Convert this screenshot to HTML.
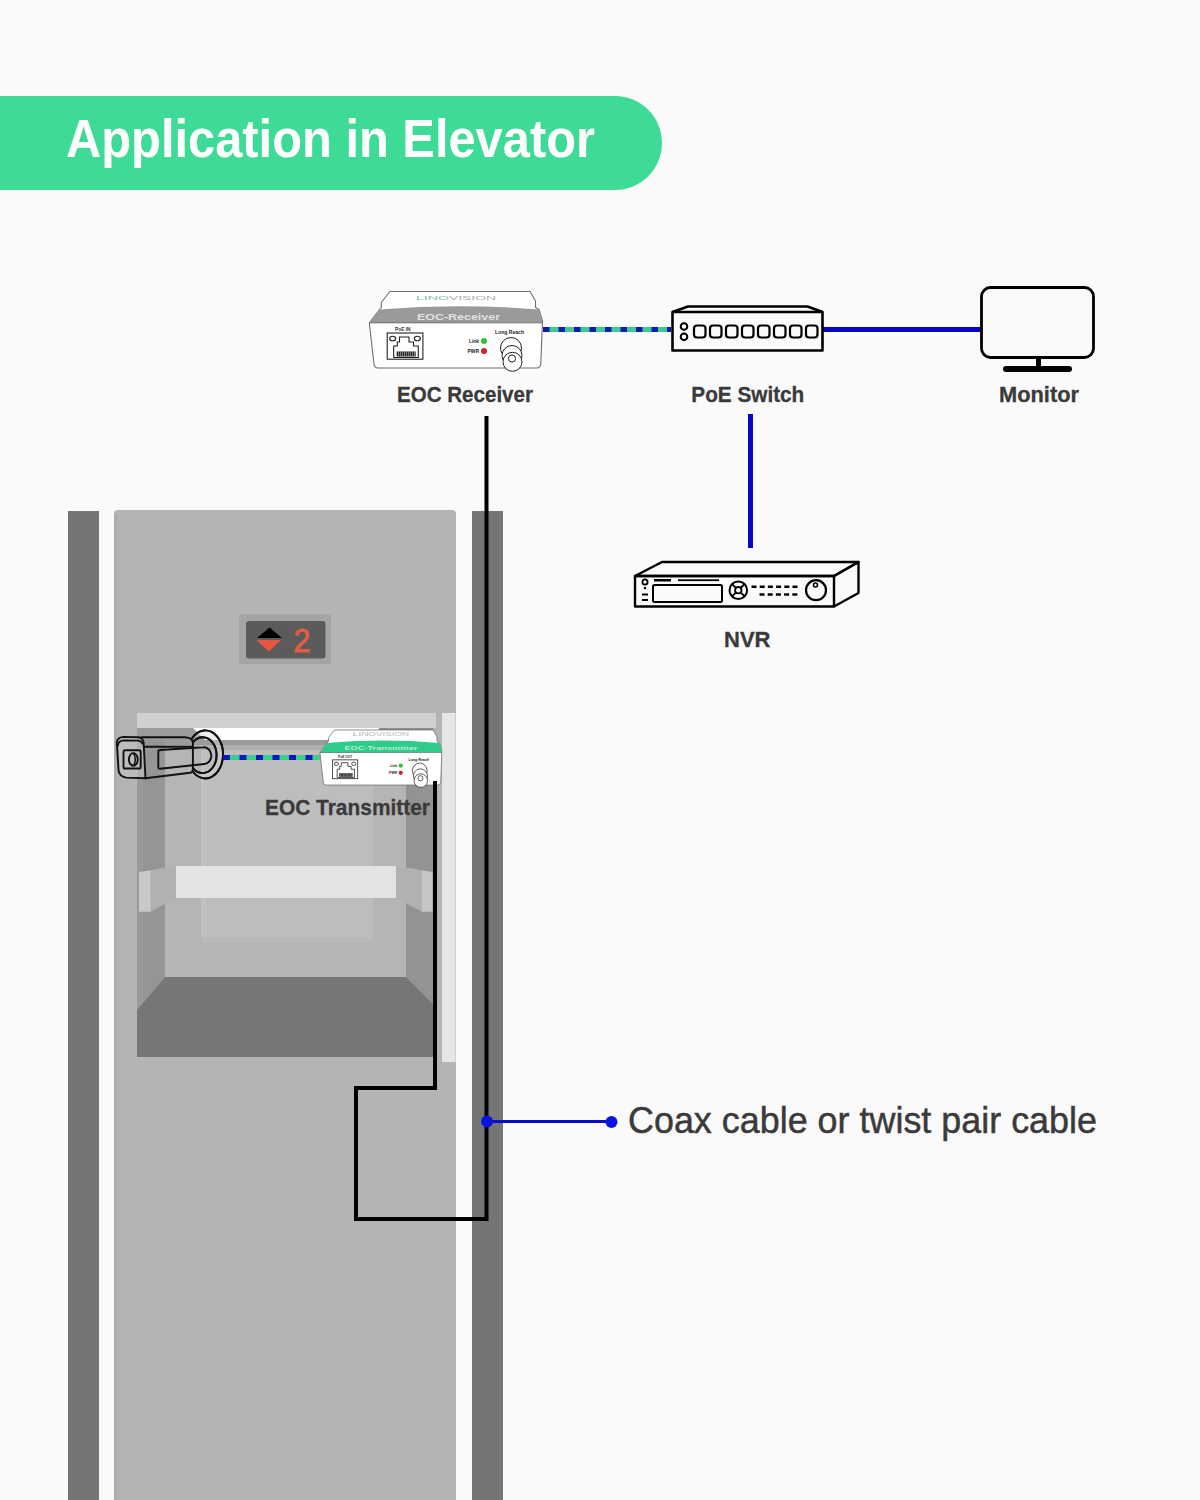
<!DOCTYPE html>
<html><head><meta charset="utf-8">
<style>
html,body{margin:0;padding:0;background:#FAFAFA;}
svg{display:block;}
text{font-family:"Liberation Sans",sans-serif;}
</style></head>
<body>
<svg width="1200" height="1500" viewBox="0 0 1200 1500">
<rect x="0" y="0" width="1200" height="1500" fill="#FAFAFA"/>
<!-- title bar -->
<path d="M0 96 H615 A47 47 0 0 1 615 190 H0 Z" fill="#3DDB95"/>
<text x="66" y="157" font-size="53.5" font-weight="bold" fill="#FFFFFF" textLength="529" lengthAdjust="spacingAndGlyphs">Application in Elevator</text>

<!-- pillars -->
<rect x="68" y="511" width="31" height="989" fill="#757575"/>
<rect x="472" y="511" width="31" height="989" fill="#757575"/>
<!-- door panel -->
<path d="M114 1500 V514 Q114 510 118 510 H452 Q456 510 456 514 V1500 Z" fill="#B3B4B3"/>
<rect x="114" y="514" width="2" height="986" fill="#A9AAA9"/>
<rect x="116" y="514" width="3" height="986" fill="#B0B1B0"/>

<!-- floor indicator -->
<rect x="239" y="614.5" width="92" height="49.5" rx="2" fill="#A4A4A4"/>
<rect x="246" y="621" width="79.5" height="37.5" rx="3" fill="#5B5B5B"/>
<path d="M257 638 L269.5 627.5 L282 638 Z" fill="#000"/>
<path d="M256.5 640 L281 640 L269 651.5 Z" fill="#E8553F"/>
<text x="293.5" y="651.5" font-size="33" fill="#E35C45" stroke="#E35C45" stroke-width="0.9" textLength="17" lengthAdjust="spacingAndGlyphs">2</text>

<!-- interior -->
<rect x="137" y="713" width="299" height="15" fill="#CFD0CF"/>
<rect x="137" y="728" width="296" height="329" fill="#B5B5B5"/>
<!-- ceiling -->
<rect x="137" y="728" width="296" height="17.5" fill="#9B9B9B"/>
<path d="M193 728 H379 V740 H205 Z" fill="#FDFDFD"/>
<rect x="379" y="728" width="54" height="12" fill="#8E8E8E"/>
<rect x="165" y="745.5" width="241" height="4.5" fill="#B0B0B0"/>
<!-- back wall -->
<rect x="165" y="750" width="241" height="227" fill="#B5B5B5"/>
<rect x="202" y="750" width="171" height="192" fill="#B9B9B9"/>
<rect x="202" y="750" width="171" height="187" fill="#BDBDBD"/>
<rect x="201" y="750" width="5" height="187" fill="#C1C1C1"/>
<!-- left wall -->
<path d="M137 740 H165 V977 L137 1010 Z" fill="#959595"/>
<path d="M137 740 H143 V1003 L137 1010 Z" fill="#9A9A9A"/>
<!-- right wall -->
<path d="M406 740 H433 V1004 L406 977 Z" fill="#939393"/>
<!-- floor -->
<path d="M165 977 H406 L433 1004 V1057 H137 V1010 Z" fill="#767676"/>
<!-- handrail -->
<rect x="176" y="866" width="220" height="32" fill="#E3E3E3"/>
<path d="M150.7 870.3 L176 865.7 V898 L150.7 911.7 Z" fill="#B1B1B1"/>
<path d="M139 872 L150.7 870.3 V911.7 H139 Z" fill="#C9C9C9"/>
<path d="M396 865.7 L422 870.3 V911.7 L396 898 Z" fill="#B1B1B1"/>
<path d="M422 870.3 L432.5 872 V911.7 H422 Z" fill="#C6C6C6"/>
<!-- right light strip -->
<rect x="442" y="713" width="13.5" height="349" fill="#E6E6E6"/>


<!-- camera -->
<path d="M118.5 744 Q118.5 740.5 122 740.5 L139.5 740.6 Q142.5 741 144 744 L145.5 778 L126 777 Q121 776.5 120 771 Z" fill="#C4C4C4" fill-opacity="0.55"/>
<g id="cam" fill="none" stroke="#111" stroke-width="1.9" stroke-linejoin="round" stroke-linecap="round">
<path d="M191.5 739.2 A17.8 24 0 1 1 192.6 771.3 L192.9 768.1 A14 17.9 0 1 0 192.9 742.3 Z" fill="#D8D8D8" fill-opacity="0.4"/>
<path d="M118.6 771 L117 746 Q115.5 737.5 123 736.9 L139 737.3 Q142.8 738 143.6 742.5 L145.5 778.3 L126.5 777.6 Q120 777 118.6 771 Z"/>
<path d="M117.8 745.5 Q118.5 740.6 124 740.4 L138 740.6 Q141.3 741 142.3 743.5"/>
<path d="M141.5 737.3 H184.7 Q189.3 737.5 191.5 739.2"/>
<path d="M143.8 746.7 H192.7"/>
<path d="M145.5 778.3 L190 772.8 Q191.6 772.5 192.6 771.3"/>
<path d="M158.3 751.5 Q158.3 750 160 750 L203.3 747.3 A7.4 8.35 0 0 1 204.5 764 L160 768.7 Q158.3 768.8 158.3 767 Z"/>
<path d="M192.9 742.3 A14 17.9 0 1 1 192.9 768.1 Z"/>
<path d="M191.5 739.2 A17.8 24 0 1 1 192.6 771.3"/>
<rect x="123.5" y="750.3" width="17.2" height="18.2" rx="1.6"/>
<ellipse cx="133.3" cy="759.4" rx="4.4" ry="6.3"/>
<path d="M133.6 753.3 Q137 759.4 133.6 765.5" stroke-width="1.5"/>
</g>
<!-- dotted camera->tx -->
<line x1="223" y1="757.5" x2="320" y2="757.5" stroke="#3DCC8E" stroke-width="5"/>
<line x1="223" y1="757.5" x2="320" y2="757.5" stroke="#0B1AB8" stroke-width="5" stroke-dasharray="7 9.5"/>
<g id="tx" transform="translate(60 520.1) scale(0.704 0.72)">
<path d="M390 291.5 H530 L535.5 301 V307.5 L539 309.5 L542.5 321 L540.8 364 Q540.5 367.8 536.5 368 H378 Q374.3 367.8 374 364 L369.3 323 L379.6 309.5 L381.3 307.5 V302.5 Z" fill="#FFFFFF" stroke="#6E6E6E" stroke-width="1.1" stroke-linejoin="round"/>
<path d="M369.3 323 L379.6 309.5 Q458 303 539 309.5 L542.5 322.5 Z" fill="#2FCB8B"/>
<line x1="369.3" y1="322.8" x2="542.5" y2="322.8" stroke="#6E6E6E" stroke-width="1"/>
<text x="416" y="300" font-size="6.2" fill="#AEB8B3" textLength="33" lengthAdjust="spacingAndGlyphs">LINO</text>
<text x="449" y="300" font-size="6.2" fill="#B8B8B8" textLength="47" lengthAdjust="spacingAndGlyphs">VISION</text>
<text x="404" y="319.5" font-size="8.5" font-weight="bold" fill="#B9EAD3" textLength="104" lengthAdjust="spacingAndGlyphs">EOC-Transmitter</text>
<text x="395" y="331" font-size="4.6" font-weight="bold" fill="#333" textLength="20" lengthAdjust="spacingAndGlyphs">PoE OUT</text>
<g fill="none" stroke="#222" stroke-width="1.1">
<rect x="387.2" y="333" width="35.7" height="26.2"/>
<path d="M393.7 357.5 V346 H397.3 V342 H399.5 V337 H409 V342 H413.5 V346 H418.3 V357.5 Z"/>
<ellipse cx="392.7" cy="338.5" rx="3" ry="2.3"/>
<ellipse cx="417.3" cy="338.5" rx="3" ry="2.3"/>
</g>
<rect x="396.7" y="351.5" width="19" height="5" fill="#222"/>
<g stroke="#EEE" stroke-width="0.5">
<path d="M398.6 351.7 V356.3 M400.6 351.7 V356.3 M402.6 351.7 V356.3 M404.6 351.7 V356.3 M406.6 351.7 V356.3 M408.6 351.7 V356.3 M410.6 351.7 V356.3 M412.6 351.7 V356.3 M414.6 351.7 V356.3"/>
</g>
<text x="469" y="342.8" font-size="4.8" font-weight="bold" fill="#222" textLength="10" lengthAdjust="spacingAndGlyphs">Link</text>
<text x="467.5" y="352.8" font-size="4.8" font-weight="bold" fill="#222" textLength="11.5" lengthAdjust="spacingAndGlyphs">PWR</text>
<circle cx="484" cy="341" r="3" fill="#2DC42D"/>
<circle cx="484" cy="351" r="3" fill="#D42020"/>
<text x="495" y="334" font-size="4.8" font-weight="bold" fill="#222" textLength="29" lengthAdjust="spacingAndGlyphs">Long Reach</text>
<g fill="#FFFFFF" stroke="#222" stroke-width="1">
<circle cx="511" cy="348" r="10.5"/>
<circle cx="512" cy="355.5" r="10"/>
<circle cx="512.5" cy="361.8" r="9.5"/>
<circle cx="512" cy="358.5" r="3.6"/>
</g>
</g>

<!-- black cable -->
<path d="M435 781 V1088 H356 V1219 H486.5 V416" fill="none" stroke="#000" stroke-width="4" stroke-linejoin="miter"/>

<!-- pointer -->
<line x1="487" y1="1121.5" x2="611" y2="1121.5" stroke="#0A0ACC" stroke-width="3"/>
<circle cx="487" cy="1121.5" r="6" fill="#0A14E0"/>
<circle cx="611.5" cy="1122" r="6" fill="#0A14E0"/>
<text x="628" y="1132.5" font-size="37.5" fill="#3A3A3A" stroke="#3A3A3A" stroke-width="0.5" textLength="469" lengthAdjust="spacingAndGlyphs">Coax cable or twist pair cable</text>

<!-- labels -->
<g font-weight="bold" font-size="21.8" fill="#3A3A3A" stroke="#3A3A3A" stroke-width="0.3">
<text x="397" y="401.5" textLength="136" lengthAdjust="spacingAndGlyphs">EOC Receiver</text>
<text x="691.3" y="401.8" textLength="113" lengthAdjust="spacingAndGlyphs">PoE Switch</text>
<text x="999" y="402" textLength="80" lengthAdjust="spacingAndGlyphs">Monitor</text>
<text x="724" y="647.3" textLength="46.5" lengthAdjust="spacingAndGlyphs">NVR</text>
<text x="265" y="815.4" textLength="165" lengthAdjust="spacingAndGlyphs">EOC Transmitter</text>
</g>


<!-- EOC receiver -->
<g id="rx">
<path d="M390 291.5 H530 L535.5 301 V307.5 L539 309.5 L542.5 321 L540.8 364 Q540.5 367.8 536.5 368 H378 Q374.3 367.8 374 364 L369.3 323 L379.6 309.5 L381.3 307.5 V302.5 Z" fill="#FFFFFF" stroke="#6E6E6E" stroke-width="1.1" stroke-linejoin="round"/>
<path d="M369.3 323 L379.6 309.5 Q458 303 539 309.5 L542.5 322.5 Z" fill="#999A99"/>
<line x1="369.3" y1="322.8" x2="542.5" y2="322.8" stroke="#6E6E6E" stroke-width="1"/>
<text x="416" y="300" font-size="6.2" fill="#7BBFA6" textLength="33" lengthAdjust="spacingAndGlyphs">LINO</text>
<text x="449" y="300" font-size="6.2" fill="#A9A9A9" textLength="47" lengthAdjust="spacingAndGlyphs">VISION</text>
<text x="417" y="319.5" font-size="8.5" font-weight="bold" fill="#E2E2E2" textLength="83" lengthAdjust="spacingAndGlyphs">EOC-Receiver</text>
<text x="395" y="331" font-size="4.6" font-weight="bold" fill="#333" textLength="15.5" lengthAdjust="spacingAndGlyphs">PoE IN</text>
<g fill="none" stroke="#222" stroke-width="1.1">
<rect x="387.2" y="333" width="35.7" height="26.2"/>
<path d="M393.7 357.5 V346 H397.3 V342 H399.5 V337 H409 V342 H413.5 V346 H418.3 V357.5 Z"/>
<ellipse cx="392.7" cy="338.5" rx="3" ry="2.3"/>
<ellipse cx="417.3" cy="338.5" rx="3" ry="2.3"/>
</g>
<rect x="396.7" y="351.5" width="19" height="5" fill="#222"/>
<g stroke="#EEE" stroke-width="0.5">
<path d="M398.6 351.7 V356.3 M400.6 351.7 V356.3 M402.6 351.7 V356.3 M404.6 351.7 V356.3 M406.6 351.7 V356.3 M408.6 351.7 V356.3 M410.6 351.7 V356.3 M412.6 351.7 V356.3 M414.6 351.7 V356.3"/>
</g>
<text x="469" y="342.8" font-size="4.8" font-weight="bold" fill="#222" textLength="10" lengthAdjust="spacingAndGlyphs">Link</text>
<text x="467.5" y="352.8" font-size="4.8" font-weight="bold" fill="#222" textLength="11.5" lengthAdjust="spacingAndGlyphs">PWR</text>
<circle cx="484" cy="341" r="3" fill="#2DC42D"/>
<circle cx="484" cy="351" r="3" fill="#D42020"/>
<text x="495" y="334" font-size="4.8" font-weight="bold" fill="#222" textLength="29" lengthAdjust="spacingAndGlyphs">Long Reach</text>
<g fill="#FFFFFF" stroke="#222" stroke-width="1">
<circle cx="511" cy="348" r="10.5"/>
<circle cx="512" cy="355.5" r="10"/>
<circle cx="512.5" cy="361.8" r="9.5"/>
<circle cx="512" cy="358.5" r="3.6"/>
</g>
</g>

<!-- blue lines -->
<rect x="822" y="327" width="158" height="5" fill="#0606C4"/>
<rect x="748" y="414" width="5" height="134" fill="#0606C4"/>
<!-- dotted receiver->switch -->
<line x1="543" y1="329.5" x2="671" y2="329.5" stroke="#3DCC8E" stroke-width="5"/>
<line x1="543" y1="329.5" x2="671" y2="329.5" stroke="#0B1AB8" stroke-width="5" stroke-dasharray="6.5 9"/>

<!-- switch -->
<g fill="none" stroke="#000" stroke-width="2.6" stroke-linejoin="round">
<rect x="672.5" y="312" width="150" height="38.5" fill="#FAFAFA"/>
<path d="M672.5 312 L688 306.5 H807.5 L822.5 312"/>
<circle cx="684" cy="326.5" r="3.3" stroke-width="2"/>
<circle cx="684" cy="336.7" r="3.3" stroke-width="2"/>
</g>
<g fill="none" stroke="#000" stroke-width="2.2" id="ports">
<rect x="694" y="325.5" width="11.5" height="12" rx="3"/>
<rect x="710" y="325.5" width="11.5" height="12" rx="3"/>
<rect x="726" y="325.5" width="11.5" height="12" rx="3"/>
<rect x="742" y="325.5" width="11.5" height="12" rx="3"/>
<rect x="758" y="325.5" width="11.5" height="12" rx="3"/>
<rect x="774" y="325.5" width="11.5" height="12" rx="3"/>
<rect x="790" y="325.5" width="11.5" height="12" rx="3"/>
<rect x="806" y="325.5" width="11.5" height="12" rx="3"/>
</g>

<!-- monitor -->
<rect x="981.5" y="287.5" width="112" height="70" rx="9" fill="#FAFAFA" stroke="#000" stroke-width="2.8"/>
<rect x="1036" y="358" width="5" height="9" fill="#000"/>
<line x1="1006" y1="369" x2="1069" y2="369" stroke="#000" stroke-width="6" stroke-linecap="round"/>

<!-- NVR -->
<g fill="none" stroke="#000" stroke-width="2.4" stroke-linejoin="round">
<path d="M635 576 L662 562 H858.5 L834 576 Z"/>
<path d="M834 576 L858.5 562 V593 L834 606.5"/>
<rect x="635" y="576" width="199" height="30.5"/>
<rect x="653" y="585" width="69" height="17" rx="1.5" stroke-width="2"/>
<circle cx="645" cy="582" r="2.6" stroke-width="1.8"/>
<circle cx="738.3" cy="590.2" r="8.8" stroke-width="2"/>
<circle cx="738.3" cy="590.2" r="3.2" stroke-width="1.8"/>
<path d="M732 584 L736 588 M744.6 584 L740.6 588 M732 596.4 L736 592.4 M744.6 596.4 L740.6 592.4" stroke-width="1.8"/>
<circle cx="816" cy="590.2" r="10" stroke-width="2.2"/>
<circle cx="815.5" cy="585" r="2" stroke-width="1.6"/>
</g>
<g fill="#000">
<circle cx="645" cy="588" r="1.2"/>
<rect x="642" y="593.5" width="6" height="2"/>
<rect x="642" y="599" width="6" height="2"/>
<rect x="654" y="579" width="17" height="2.5"/>
<rect x="678" y="579.3" width="41" height="1.8"/>
</g>
<g stroke="#000" stroke-width="2.4" stroke-dasharray="5 3.2">
<line x1="751.5" y1="586.8" x2="799" y2="586.8"/>
<line x1="759.5" y1="594.5" x2="799" y2="594.5"/>
</g>

</svg>
</body></html>
